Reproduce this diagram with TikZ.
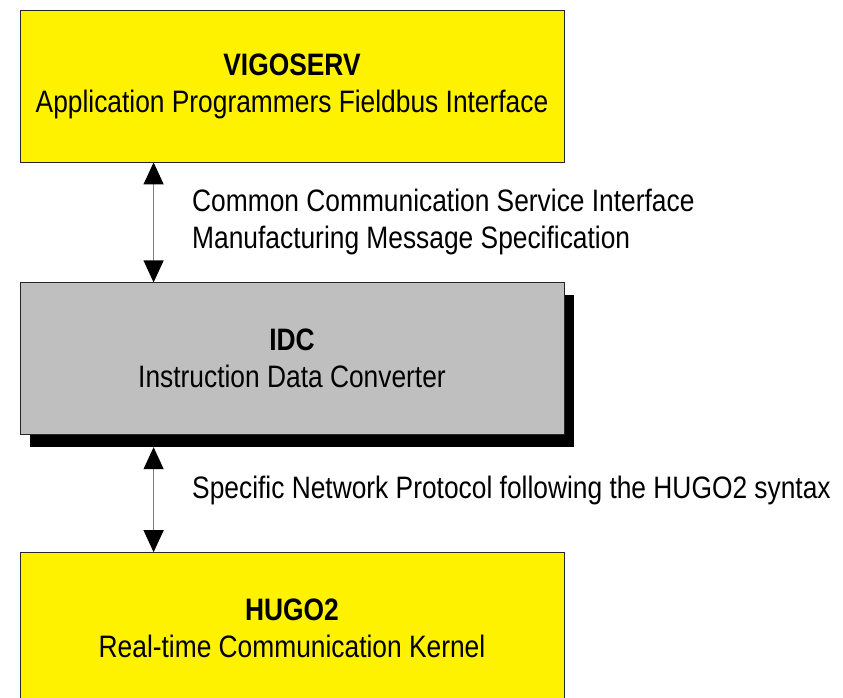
\documentclass[tikz,border=0pt]{standalone}
\usepackage{fontspec}
\setmainfont{Liberation Sans}[FakeStretch=0.85]
\usetikzlibrary{arrows.meta,shadows,positioning}

\tikzset{
  layerbox/.style={draw=black!85, line width=0.8pt, minimum width=544pt, minimum height=152pt,
    inner sep=0pt, align=center, font=\fontsize{31}{37}\selectfont},
  apibox/.style={layerbox, fill=yellow},
  convbox/.style={layerbox, fill=black!25,
    drop shadow={shadow xshift=10pt, shadow yshift=-12pt, fill=black, opacity=1}},
  link/.style={draw=gray, line width=1.2pt,
    {Triangle[color=black,length=22pt,width=20pt]}-{Triangle[color=black,length=22pt,width=20pt]}},
  linklabel/.style={anchor=west, inner sep=0pt, xshift=38pt, align=left,
    font=\fontsize{31}{37}\selectfont}
}

\begin{document}
\begin{tikzpicture}[x=1pt,y=-1pt]
    \useasboundingbox (0,0) rectangle (843,698);

    % Layers
    \node[apibox] (vigoserv) at (292,86) {\textbf{VIGOSERV}\\Application Programmers Fieldbus Interface};
    \node[convbox, below=120pt of vigoserv] (idc) {\textbf{IDC}\\Instruction Data Converter};
    \node[apibox, below=117pt of idc] (hugo) {\textbf{HUGO2}\\Real-time Communication Kernel};

    % Interfaces between layers
    \draw[link] ([xshift=134pt]vigoserv.south west) -- ([xshift=134pt]idc.north west)
        node[linklabel, midway] {Common Communication Service Interface\\Manufacturing Message Specification};
    \draw[link] ([xshift=134pt,yshift=-12pt]idc.south west) -- ([xshift=134pt]hugo.north west)
        node[linklabel, midway, yshift=9pt] {Specific Network Protocol following the HUGO2 syntax};
\end{tikzpicture}
\end{document}
